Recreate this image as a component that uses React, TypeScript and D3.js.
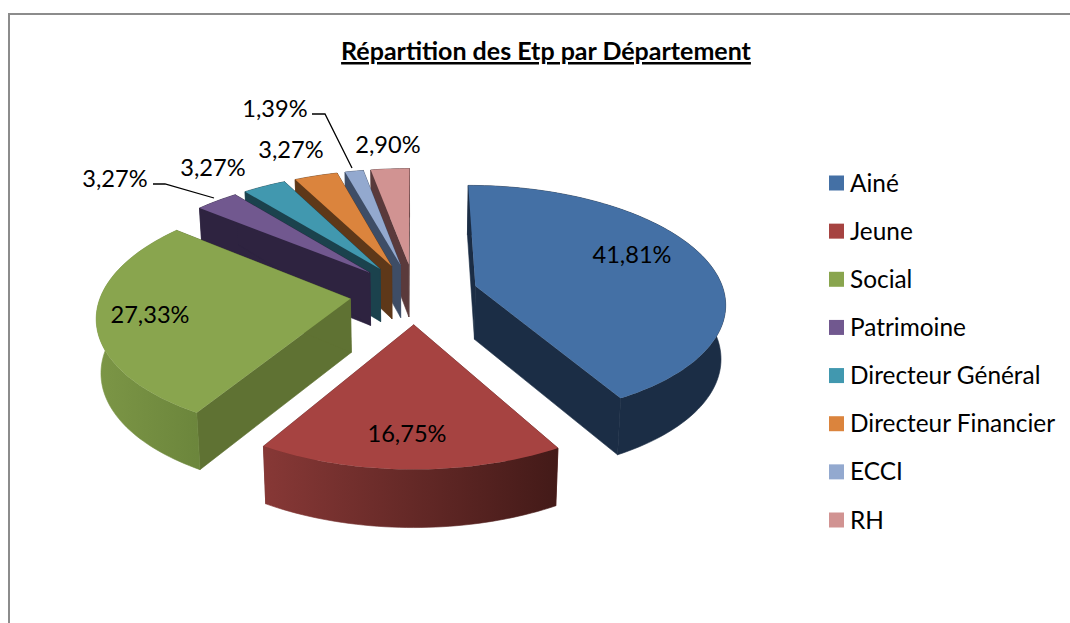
import React from "react";
import * as d3 from "d3";

const categories = ["Ainé", "Jeune", "Social", "Patrimoine", "Directeur Général", "Directeur Financier", "ECCI", "RH"];
const shares = [41.81, 16.75, 27.33, 3.27, 3.27, 3.27, 1.39, 2.9];
const valueLabels = ["41,81%", "16,75%", "27,33%", "3,27%", "3,27%", "3,27%", "1,39%", "2,90%"];
const title = "Répartition des Etp par Département";

const topColors = ["#4470A5", "#A64341", "#89A54E", "#71588F", "#4198AF", "#DB843D", "#93A9CF", "#D19392"];
const wallColors = ["#1B2D45", "#6B2A29", "#5F7233", "#2E2340", "#1B424D", "#5E3819", "#3E4D66", "#5A3A3B"];
const rimStops = [
  ["#1B2D45", "#1B2D45"],
  ["#873836", "#431A18"],
  ["#7C9646", "#6C863C"],
  ["#2E2340", "#2E2340"],
  ["#1B424D", "#1B424D"],
  ["#5E3819", "#5E3819"],
  ["#3E4D66", "#3E4D66"],
  ["#5A3A3B", "#5A3A3B"],
];
const explosions = [0.255, 0.26, 0.26, 0.26, 0.26, 0.26, 0.26, 0.26];
const drawOrder = [7, 6, 5, 4, 3, 2, 0, 1];
const labelCentres = [[632, 254], [407, 433], [150, 314], [115, 178], [213, 167], [291, 149], [275, 108], [388, 144]];
const leaders = [
  [[153, 184], [165, 184], [214, 198]],
  [[312, 114], [325, 114], [352, 168]],
];

const CX = 414.5, CY = 293.5, PERSPECTIVE = 0.134, DEPTH = 53.5;
const xScale = d3.scaleLinear().domain([-1, 1]).range([-249, 249]);
const yScale = d3.scaleLinear().domain([-1, 1]).range([116, -116]);

type P = [number, number, number];
const project = (u: number, v: number): P => {
  const w = 1 / (1 + PERSPECTIVE * v);
  return [CX + xScale(u) * w, CY + yScale(v) * w, v];
};
const sink = (p: P): P => [CX + (p[0] - CX) * 0.985, p[1] + DEPTH * (1 - 0.07 * p[2]), p[2]];

const line = d3.line<P>().x((d) => d[0]).y((d) => d[1]);
const FONT = "Lato, Carlito, sans-serif";

const legendY = d3.scalePoint<string>().domain(categories).range([183, 520]);

export default function App() {
  const arcs = d3.pie<number>().sort(null).startAngle(0).endAngle(2 * Math.PI)(shares);
  const shapes = arcs.map((a, idx) => {
    const mid = (a.startAngle + a.endAngle) / 2;
    const ou = Math.sin(mid) * explosions[idx];
    const ov = Math.cos(mid) * explosions[idx];
    const n = Math.max(4, Math.ceil((a.endAngle - a.startAngle) * 40));
    const rim: P[] = d3.range(n + 1).map((i) => {
      const t = a.startAngle + ((a.endAngle - a.startAngle) * i) / n;
      return project(ou + Math.sin(t), ov + Math.cos(t));
    });
    const apex = project(ou, ov);
    return { apex, rim, x: d3.extent(rim, (d) => d[0]) as [number, number] };
  });

  return (
    <svg width={1070} height={623} style={{ position: "absolute", left: 0, top: 0, background: "#fff" }}>
      <defs>
        {shapes.map((s, i) => (
          <linearGradient key={i} id={`rim${i}`} gradientUnits="userSpaceOnUse" x1={s.x[0]} x2={s.x[1]} y1={0} y2={0}>
            <stop offset="0" stopColor={rimStops[i][0]} />
            <stop offset="1" stopColor={rimStops[i][1]} />
          </linearGradient>
        ))}
      </defs>
      <path d="M9 623V14H1070" fill="none" stroke="#8c8c8c" strokeWidth={2} />
      {drawOrder.map((i) => {
        const { apex, rim } = shapes[i];
        const first = rim[0];
        const last = rim[rim.length - 1];
        return (
          <g key={i}>
            <path d={line([apex, first, sink(first), sink(apex)]) + "Z"} fill={wallColors[i]} stroke={wallColors[i]} strokeWidth={0.6} />
            <path d={line([apex, last, sink(last), sink(apex)]) + "Z"} fill={wallColors[i]} stroke={wallColors[i]} strokeWidth={0.6} />
            <path d={line([...rim, ...rim.map(sink).reverse()]) + "Z"} fill={`url(#rim${i})`} stroke={`url(#rim${i})`} strokeWidth={0.6} />
            <path d={line([apex, ...rim]) + "Z"} fill={topColors[i]} />
          </g>
        );
      })}
      {leaders.map((l, i) => (
        <path key={i} d={d3.line()(l as [number, number][]) as string} fill="none" stroke="#000" strokeWidth={1.3} />
      ))}
      <g fontFamily={FONT} fontSize={23.6} fill="#000">
        {valueLabels.map((t, i) => (
          <text key={i} x={labelCentres[i][0]} y={labelCentres[i][1]} textAnchor="middle" dominantBaseline="central">
            {t}
          </text>
        ))}
      </g>
      <g fontFamily={FONT} fontSize={24.4} fill="#000">
        {categories.map((c, i) => (
          <g key={c}>
            <rect x={829} y={(legendY(c) as number) - 7.5} width={15} height={15} fill={topColors[i]} />
            <text x={850} y={(legendY(c) as number) - 1} dominantBaseline="central">
              {c}
            </text>
          </g>
        ))}
      </g>
      <text x={546} y={60} textAnchor="middle" fontFamily={FONT} fontWeight={700} fontSize={25} textDecoration="underline" fill="#000">
        {title}
      </text>
    </svg>
  );
}
